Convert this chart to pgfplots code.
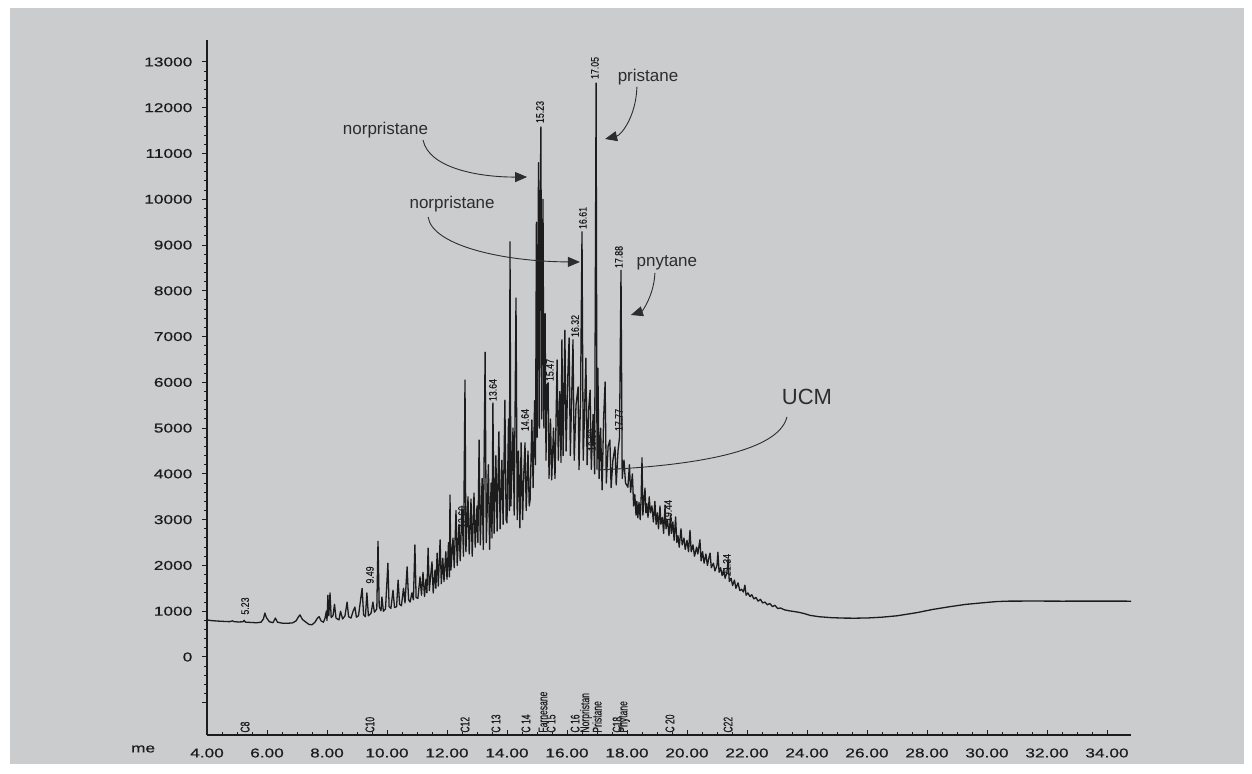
\documentclass[border=0pt]{standalone}
\usepackage{pgfplots}
\pgfplotsset{compat=1.18}
\usepackage{pgfplotstable}
\usepackage{fontspec}
\setmainfont{Liberation Sans}
\newfontfamily\tickfont[FakeStretch=1.35,FakeBold=0.7]{Liberation Sans}
\newfontfamily\pkfont[FakeStretch=0.8,FakeBold=0.4]{Liberation Sans}
\newfontfamily\cmpfont[FakeStretch=0.68,FakeBold=0.4]{Liberation Sans}
\usetikzlibrary{arrows.meta}
\definecolor{panel}{RGB}{203,204,206}
\definecolor{ink}{RGB}{28,28,28}
\definecolor{note}{RGB}{45,45,45}

% retention time (min) vs detector response
\pgfplotstableread{
t s
4.00 810
4.15 795
4.35 785
4.55 778
4.75 772
4.85 790
4.90 772
5.05 765
5.20 770
5.24 800
5.28 762
5.45 755
5.65 748
5.80 760
5.88 830
5.93 960
5.98 860
6.08 770
6.20 750
6.28 850
6.35 760
6.50 740
6.65 735
6.85 745
6.97 790
7.05 880
7.10 920
7.18 820
7.28 770
7.40 710
7.50 705
7.60 760
7.68 850
7.74 880
7.80 790
7.88 760
7.93 840
7.98 1000
8.00 800
8.03 1350
8.06 900
8.10 1400
8.14 860
8.20 900
8.25 1150
8.30 850
8.40 810
8.45 1000
8.52 830
8.60 900
8.67 1200
8.72 880
8.80 850
8.87 1000
8.93 1090
8.98 870
9.05 900
9.12 1250
9.17 1500
9.22 920
9.28 880
9.33 1400
9.38 900
9.47 960
9.53 1200
9.58 980
9.66 1050
9.70 2530
9.74 1100
9.80 1010
9.83 1310
9.88 1000
9.95 1050
10.03 2050
10.07 1100
10.13 1060
10.20 1460
10.25 1080
10.32 1100
10.37 1680
10.42 1150
10.48 1120
10.55 1500
10.60 1180
10.67 1970
10.72 1250
10.77 1200
10.83 1400
10.88 1250
10.93 2450
10.97 1300
11.03 1280
11.10 1750
11.15 1350
11.20 1850
11.25 1320
11.30 1700
11.33 1400
11.37 2380
11.41 1450
11.50 2080
11.54 1400
11.60 1900
11.63 1500
11.67 2270
11.71 1550
11.77 2560
11.81 1600
11.86 2160
11.90 1650
11.96 2300
12.00 1700
12.05 2500
12.08 1750
12.10 3540
12.13 1900
12.20 2600
12.24 1950
12.30 3200
12.34 2000
12.40 2900
12.44 2100
12.50 3300
12.55 2200
12.60 6050
12.63 2300
12.70 3500
12.74 2250
12.80 3450
12.84 2200
12.90 3580
12.94 2400
13.00 3300
13.03 2500
13.07 4740
13.11 2450
13.17 3900
13.21 2350
13.27 6660
13.31 2500
13.38 4200
13.42 2350
13.47 3800
13.50 2600
13.53 5550
13.57 2700
13.63 4400
13.67 2750
13.73 4920
13.77 2800
13.83 4300
13.87 2900
13.93 5610
13.97 3000
14.00 2930
14.05 5200
14.08 3200
14.10 9070
14.13 3300
14.20 5000
14.24 3100
14.30 7840
14.34 3000
14.38 4500
14.43 2820
14.47 4680
14.52 3000
14.56 4000
14.60 4680
14.64 3200
14.70 4500
14.74 3300
14.77 3430
14.83 5180
14.87 3700
14.92 5600
14.95 4200
14.98 9500
15.01 4800
15.05 10800
15.08 5000
15.11 10200
15.13 11580
15.16 5200
15.20 10000
15.23 5000
15.27 7500
15.30 4300
15.33 5940
15.37 5990
15.40 3900
15.45 5200
15.49 3870
15.55 5000
15.60 3900
15.67 6490
15.71 4300
15.76 5800
15.80 4250
15.83 6930
15.87 4400
15.93 7140
15.97 4500
16.03 6200
16.07 6970
16.11 4400
16.16 5800
16.20 6930
16.24 4300
16.30 5500
16.37 5900
16.40 4090
16.45 5600
16.50 9290
16.54 4300
16.58 5200
16.63 6530
16.67 4200
16.72 5400
16.77 5830
16.81 4100
16.87 5300
16.92 4000
16.97 12540
17.00 4100
17.03 6310
17.07 3900
17.12 5000
17.17 3650
17.22 5200
17.27 6010
17.31 3800
17.37 4600
17.43 4740
17.47 3700
17.53 4300
17.60 4590
17.64 3760
17.70 4500
17.75 4800
17.80 8450
17.84 3900
17.90 4300
17.95 3800
18.03 3710
18.08 4200
18.12 3600
18.18 4000
18.22 3300
18.26 3550
18.30 3100
18.33 3400
18.36 3040
18.40 3380
18.44 3000
18.47 3450
18.50 4350
18.53 3100
18.56 3400
18.60 3690
18.63 3150
18.66 3350
18.70 3050
18.74 3500
18.78 3150
18.83 3300
18.88 2950
18.93 3400
18.97 2900
19.01 3150
19.05 2800
19.10 3300
19.13 2900
19.18 3050
19.22 2700
19.27 3320
19.30 2800
19.35 3000
19.40 2650
19.45 3100
19.48 2700
19.53 2950
19.57 2550
19.62 3060
19.66 2500
19.70 2650
19.74 2400
19.80 2800
19.84 2450
19.90 2600
19.94 2350
20.00 2550
20.05 2300
20.10 2770
20.14 2300
20.20 2450
20.25 2200
20.32 2400
20.36 2250
20.43 2560
20.47 2100
20.52 2300
20.57 2050
20.63 2250
20.68 2000
20.74 2200
20.77 2270
20.81 1950
20.88 2050
20.93 1880
21.00 2000
21.03 2290
21.07 1850
21.12 1950
21.17 1780
21.22 1900
21.27 1720
21.33 1850
21.37 2120
21.41 1650
21.47 1720
21.52 1560
21.58 1680
21.63 1500
21.70 1620
21.76 1450
21.82 1480
21.88 1420
21.93 1570
21.97 1350
22.03 1400
22.10 1320
22.16 1360
22.23 1270
22.30 1300
22.37 1220
22.45 1260
22.52 1180
22.60 1200
22.68 1140
22.76 1170
22.85 1100
22.93 1130
23.02 1060
23.12 1070
23.25 1030
23.40 1010
23.55 995
23.70 980
23.90 950
24.10 910
24.40 880
24.80 860
25.20 850
25.60 848
26.00 852
26.50 870
27.00 900
27.67 970
28.20 1040
28.77 1100
29.30 1150
29.87 1185
30.30 1210
30.67 1220
31.50 1222
32.50 1220
33.50 1221
34.80 1220
}\chrom

\begin{document}
\begin{tikzpicture}
\fill[white] (0,0) rectangle (626pt,387pt);
\fill[panel] (5pt,5pt) rectangle (622pt,383pt);
\begin{axis}[
  at={(103.5pt,19.5pt)}, anchor=south west,
  scale only axis, width=462pt, height=347.5pt,
  xmin=4, xmax=34.8, ymin=-1704, ymax=13480,
  clip=false,
  axis x line*=bottom, axis y line*=left,
  axis line style={ink, line width=0.6pt},
  scaled ticks=false,
  xtick={4,6,...,34},
  xticklabels={4.00,6.00,8.00,10.00,12.00,14.00,16.00,18.00,20.00,22.00,24.00,26.00,28.00,30.00,32.00,34.00},
  ytick={-1000,0,...,13000},
  yticklabels={,0,1000,2000,3000,4000,5000,6000,7000,8000,9000,10000,11000,12000,13000},
  minor x tick num=3, minor y tick num=4,
  tick align=outside,
  major tick length=2.6pt, minor tick length=1.3pt,
  tick style={ink, line width=0.5pt},
  major x tick style={yshift=2.6pt},
  minor x tick style={yshift=1.3pt},
  tick label style={font=\tickfont\fontsize{6.4}{7}\selectfont, text=ink},
  yticklabel style={xshift=-1.2pt},
  xticklabel style={yshift=-0.6pt},
]
\addplot[ink, line width=0.65pt, line join=round] table[x=t, y=s] {\chrom};

% peak retention labels
\begin{scope}[every node/.style={rotate=90, inner sep=0pt, text=ink, font=\pkfont\fontsize{5.5}{6}\selectfont}]
\node at (axis cs:5.27,1114) {5.23};
\node at (axis cs:9.43,1792) {9.49};
\node at (axis cs:12.50,3059) {12.60};
\node at (axis cs:13.53,5833) {13.64};
\node at (axis cs:14.60,5178) {14.64};
\node at (axis cs:15.10,11907) {15.23};
\node at (axis cs:15.43,6270) {15.47};
\node at (axis cs:16.27,7232) {16.32};
\node at (axis cs:16.53,9591) {16.61};
\node at (axis cs:16.93,12869) {17.05};
\node at (axis cs:16.83,4741) {16.90};
\node at (axis cs:17.73,8739) {17.88};
\node at (axis cs:17.73,5178) {17.77};
\node at (axis cs:19.37,3190) {19.44};
\node at (axis cs:21.33,2010) {21.34};
\end{scope}

% compound markers along the time axis
\begin{scope}[every node/.style={rotate=90, anchor=west, inner sep=0pt, text=ink, font=\cmpfont\fontsize{6.3}{7}\selectfont}]
\node at (axis cs:5.27,-1660) {C8};
\node at (axis cs:9.43,-1660) {C10};
\node at (axis cs:12.60,-1660) {C12};
\node at (axis cs:13.63,-1660) {C 13};
\node at (axis cs:14.63,-1660) {C 14};
\node at (axis cs:15.20,-1660) {Farnesane};
\node at (axis cs:15.47,-1660) {C 15};
\node at (axis cs:16.27,-1660) {C 16};
\node at (axis cs:16.63,-1660) {Norpristan};
\node at (axis cs:17.00,-1660) {Pristane};
\node at (axis cs:17.67,-1660) {C18};
\node at (axis cs:17.90,-1660) {Phytane};
\node at (axis cs:19.43,-1660) {C 20};
\node at (axis cs:21.37,-1660) {C22};
\end{scope}

\node[font=\tickfont\fontsize{6.4}{7}\selectfont, text=ink] at (axis cs:1.87,-2010) {me};

% annotations
\begin{scope}[every node/.style={text=note, font=\fontsize{8.5}{10}\selectfont, inner sep=0pt}]
\node at (axis cs:9.95,11514) {norpristane};
\node at (axis cs:12.17,9897) {norpristane};
\node at (axis cs:18.70,12672) {pristane};
\node at (axis cs:19.33,8608) {pnytane};
\node[font=\fontsize{11}{13}\selectfont] at (axis cs:24.00,5681) {UCM};
\end{scope}
\begin{scope}[note, line width=0.45pt, -{Triangle[length=6pt,width=5pt]}]
\draw (axis cs:11.20,11296) .. controls (axis cs:11.40,10650) and (axis cs:13.20,10480) .. (axis cs:14.67,10487);
\draw (axis cs:11.37,9613) .. controls (axis cs:11.50,9000) and (axis cs:13.80,8640) .. (axis cs:16.43,8630);
\draw (axis cs:18.33,12454) .. controls (axis cs:18.30,11800) and (axis cs:17.80,11400) .. (axis cs:17.27,11317);
\draw (axis cs:18.93,8390) .. controls (axis cs:18.90,7900) and (axis cs:18.50,7550) .. (axis cs:18.13,7472);
\end{scope}
\draw[note, line width=0.45pt] (axis cs:23.33,5244) .. controls (axis cs:23.10,4600) and (axis cs:21.00,4200) .. (axis cs:17.03,4086);
\end{axis}
\end{tikzpicture}
\end{document}
